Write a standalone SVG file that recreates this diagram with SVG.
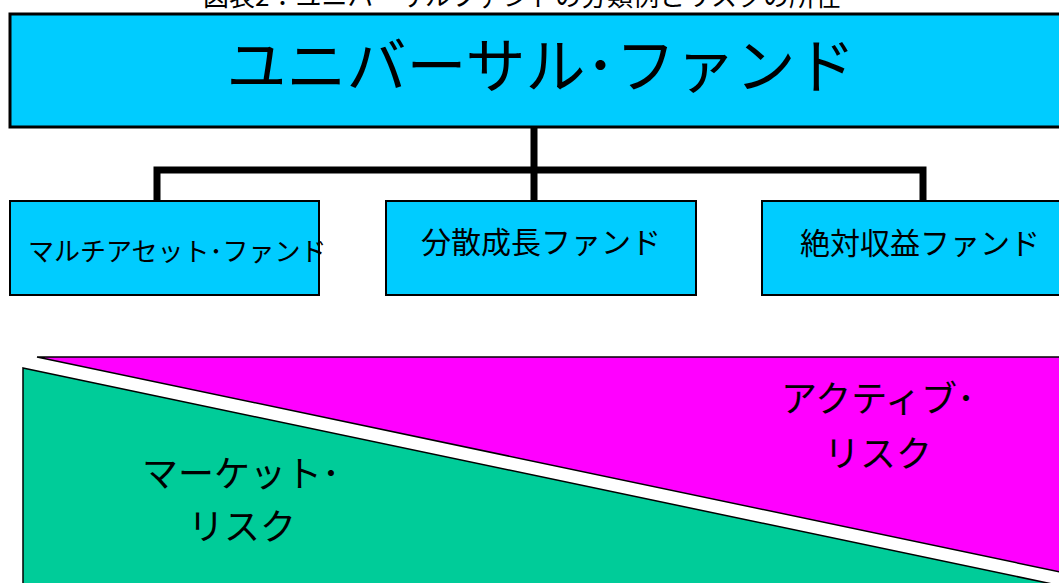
<svg xmlns="http://www.w3.org/2000/svg" width="1059" height="583" viewBox="0 0 1059 583">
<style>
text{font-family:"Noto Sans CJK JP","Liberation Sans",sans-serif;fill:#000}
.box{fill:#00CCFF;stroke:#000;stroke-width:2}
.conn{stroke:#000;stroke-width:7;fill:none}
.tri{stroke:#000;stroke-width:1.5}
</style>
<rect width="1059" height="583" fill="#fff"/>
<text id="caption" x="522" y="6" font-size="26" text-anchor="middle">図表2：ユニバーサルファンドの分類例とリスクの所在</text>
<g id="root">
<rect class="box" x="10" y="14" width="1060" height="113" style="stroke-width:3"/>
<text x="541" y="88" font-size="60" text-anchor="middle">ユニバーサル･ファンド</text>
</g>
<g id="connectors">
<path class="conn" d="M534,127 V201 M157,201 V170 H923 V201"/>
</g>
<g id="multi">
<rect class="box" x="10" y="201" width="309" height="94"/>
<text x="28" y="261" font-size="26">マルチアセット･ファンド</text>
</g>
<g id="diversified">
<rect class="box" x="386" y="201" width="310" height="94"/>
<text x="541" y="253" font-size="30" text-anchor="middle">分散成長ファンド</text>
</g>
<g id="absolute">
<rect class="box" x="762" y="201" width="310" height="94"/>
<text x="920" y="254" font-size="30" text-anchor="middle">絶対収益ファンド</text>
</g>
<g id="active">
<polygon class="tri" fill="#FF00FF" points="37,357 1070,357 1070,574"/>
<text x="878" y="412" font-size="36" text-anchor="middle">アクティブ･</text>
<text x="878" y="467" font-size="36" text-anchor="middle">リスク</text>
</g>
<g id="market">
<polygon class="tri" fill="#00CC99" points="23,368 1100,594 23,594"/>
<text x="241" y="487" font-size="36" text-anchor="middle">マーケット･</text>
<text x="242" y="540" font-size="36" text-anchor="middle">リスク</text>
</g>
</svg>
